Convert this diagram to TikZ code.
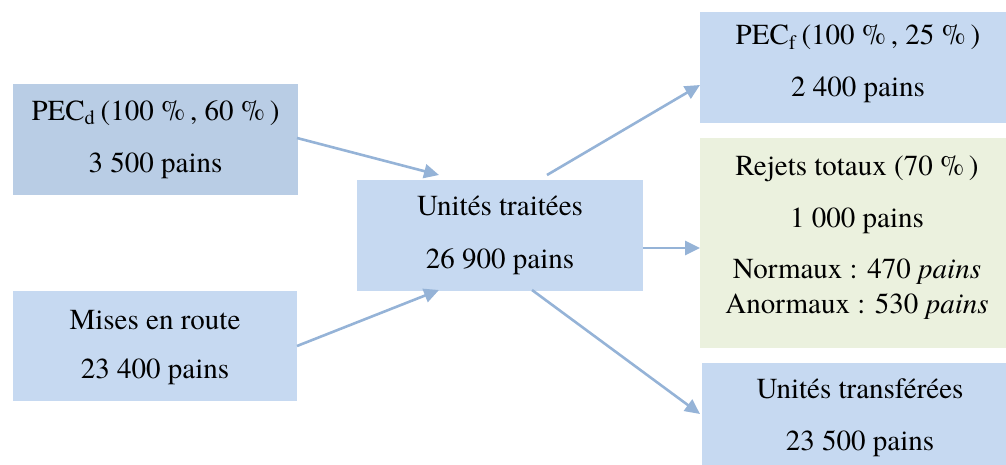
\documentclass[tikz,border=0pt]{standalone}
\usepackage{fontspec}
\setmainfont{texgyretermes}[Extension=.otf, UprightFont=*-regular, ItalicFont=*-italic, BoldFont=*-bold, BoldItalicFont=*-bolditalic]
\usetikzlibrary{arrows.meta}
\definecolor{boxblue}{HTML}{C6D9F1}
\definecolor{boxdark}{HTML}{B9CDE5}
\definecolor{boxgreen}{HTML}{EBF1DE}
\definecolor{arrowblue}{HTML}{95B3D7}
\tikzset{
  box/.style={fill=boxblue, draw=none, inner sep=0pt, outer sep=0pt},
  txt/.style={anchor=base, inner sep=0pt, font=\fontsize{14.5}{17}\selectfont},
  flow/.style={draw=arrowblue, line width=1.3pt, -{Triangle[length=7.5pt,width=7pt]}}
}
\begin{document}
\begin{tikzpicture}[x=0.5pt,y=-0.5pt]
\useasboundingbox (0,0) rectangle (1006,465);
\clip (0,0) rectangle (1006,465);
% boxes
\path[box, fill=boxdark] (13,84) rectangle (298,195) node[pos=0.5] (pd) {};
\path[box] (13,291) rectangle (297,401) node[pos=0.5] (mr) {};
\path[box] (357,180) rectangle (643,291) node[pos=0.5] (ut) {};
\path[box] (700,12) rectangle (1016,123) node[pos=0.5] (pf) {};
\path[box, fill=boxgreen] (700,138) rectangle (1016,348) node[pos=0.5] (rj) {};
\path[box] (702,363) rectangle (1016,474) node[pos=0.5] (tr) {};
% texts
\node[txt] (pd1) at (155.5,120) {PEC\textsubscript{d}\,(100~\%\,, 60~\%\,)};
\node[txt] (pd2) at (155.5,172) {3 500 pains};
\node[txt] (mr1) at (155,329) {Mises en route};
\node[txt] (mr2) at (155,378) {23 400 pains};
\node[txt] (ut1) at (500,215) {Unités traitées};
\node[txt] (ut2) at (500,268) {26 900 pains};
\node[txt] (pf1) at (858,45) {PEC\textsubscript{f}\,(100~\%\,, 25~\%\,)};
\node[txt] (pf2) at (858,97) {2 400 pains};
\node[txt] (rj1) at (857,175) {Rejets totaux (70~\%\,)};
\node[txt] (rj2) at (857,227) {1 000 pains};
\node[txt] (rj3) at (857,278) {Normaux : 470 \textit{pains}};
\node[txt] (rj4) at (857,313) {Anormaux : 530 \textit{pains}};
\node[txt] (tr1) at (860,398) {Unités transférées};
\node[txt] (tr2) at (860,450) {23 500 pains};
% connector end points
\coordinate (a1s) at (297,138);
\coordinate (a1e) at (439,175);
\coordinate (a2s) at (297,346);
\coordinate (a2e) at (439,290);
\coordinate (a3s) at (547,175);
\coordinate (a3e) at (700,85);
\coordinate (a4s) at (643,248);
\coordinate (a4e) at (700,248);
\coordinate (a5s) at (532,290);
\coordinate (a5e) at (700,414);
\draw[flow] (a1s) -- (a1e);
\draw[flow] (a2s) -- (a2e);
\draw[flow] (a3s) -- (a3e);
\draw[flow] (a4s) -- (a4e);
\draw[flow] (a5s) -- (a5e);
\end{tikzpicture}
\end{document}
